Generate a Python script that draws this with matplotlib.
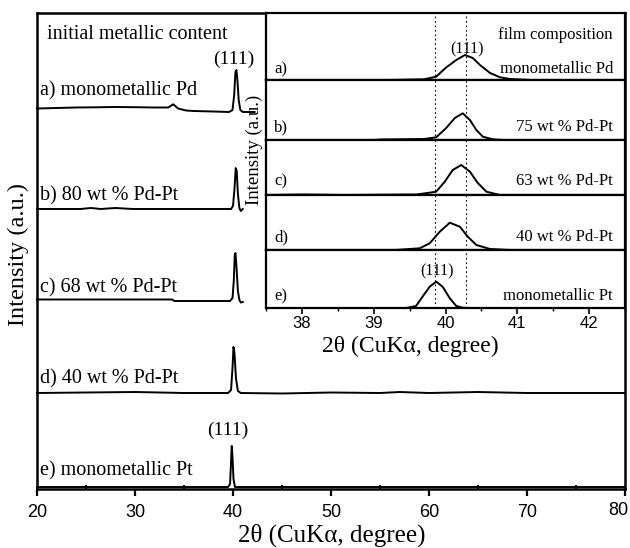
import matplotlib
matplotlib.use("Agg")
import matplotlib.pyplot as plt
import numpy as np
from matplotlib.ticker import MultipleLocator

plt.rcParams['font.family'] = ['Liberation Serif', 'DejaVu Serif']

# ---------------- data: main panel (2theta, intensity above baseline, a.u.) ----
main_ticks = [20, 30, 40, 50, 60, 70, 80]
main_tick_labels = ["20", "30", "40", "50", "60", "70", "80"]
main_labels = ["a) monometallic Pd", "b) 80 wt % Pd-Pt", "c) 68 wt % Pd-Pt",
               "d) 40 wt % Pd-Pt", "e) monometallic Pt"]
main_offsets = [377, 280, 188, 96, 2]

main_a_x = [20.0, 22.0, 24.0, 26.0, 28.0, 30.0, 32.0, 33.4, 33.9, 34.4, 35.2, 36.0,
            38.0, 39.6, 39.95, 40.12, 40.25, 40.35, 40.45, 40.58, 40.75, 41.0, 42.2]
main_a_y = [3.5, 4.0, 4.5, 4.7, 5.0, 4.8, 4.5, 4.5, 7.7, 3.5, 1.5, 1.0,
            0.5, 0.0, 2.0, 17.0, 40.0, 42.0, 32.0, 12.0, 2.0, 0.0, 0.0]

main_b_x = [20.0, 24.4, 25.5, 26.5, 28.0, 29.8, 33.0, 37.0, 39.8, 40.0, 40.15, 40.28,
            40.38, 40.5, 40.65, 40.8, 41.0]
main_b_y = [0.0, 0.0, 1.0, 0.0, 1.0, 0.0, 0.0, 0.0, 0.0, 3.0, 20.0, 41.0,
            38.0, 15.0, 1.0, -2.0, 0.0]

main_c_x = [20.0, 33.8, 34.0, 39.7, 39.95, 40.08, 40.18, 40.25, 40.35, 40.5, 40.65,
            40.8, 41.0]
main_c_y = [1.5, 1.5, 0.0, 0.0, 3.0, 20.0, 46.0, 48.0, 35.0, 10.0, 1.0, -1.5, -1.0]

main_d_x = [20.0, 25.0, 30.0, 35.0, 39.5, 39.8, 39.95, 40.05, 40.15, 40.3, 40.5, 40.8,
            45.0, 50.0, 55.0, 57.0, 60.0, 65.0, 70.0, 75.0, 80.0]
main_d_y = [0.0, 0.5, 1.0, 0.0, 0.0, 3.0, 25.0, 46.0, 40.0, 15.0, 2.0, 0.0,
            -0.5, 0.5, 0.0, 1.0, 0.0, 1.0, 0.0, 0.0, 0.0]

main_e_x = [20.0, 39.5, 39.7, 39.8, 39.87, 39.95, 40.05, 40.2, 80.0]
main_e_y = [0.0, 0.0, 3.0, 25.0, 41.0, 30.0, 8.0, 0.0, 0.0]

main_x = [main_a_x, main_b_x, main_c_x, main_d_x, main_e_x]
main_y = [main_a_y, main_b_y, main_c_y, main_d_y, main_e_y]

# ---------------- data: inset (film composition) ----------------
inset_left_labels = ["a)", "b)", "c)", "d)", "e)"]
inset_right_labels = ["monometallic Pd", "75 wt % Pd-Pt", "63 wt % Pd-Pt",
                      "40 wt % Pd-Pt", "monometallic Pt"]
inset_a_x = [37.5, 38.5, 39.1, 39.2, 39.7, 39.87, 40.0, 40.15, 40.27, 40.38, 40.48,
             40.62, 40.76, 40.9, 41.2, 42.5]
inset_a_y = [0, 0, -0.8, 0, 0.7, 3.3, 12, 20, 25, 22, 15, 7, 2.7, 1, 0, 0]
inset_b_x = [37.5, 39.0, 39.1, 39.7, 39.87, 40.01, 40.13, 40.24, 40.34, 40.43, 40.52,
             40.66, 40.8, 42.5]
inset_b_y = [0, 0, 0.5, 1, 2.7, 12, 22, 26.7, 20, 10, 3.3, 0.7, 0, 0]
inset_c_x = [37.5, 38.0, 38.6, 39.6, 39.87, 39.99, 40.1, 40.22, 40.34, 40.45, 40.57,
             40.76, 42.5]
inset_c_y = [0, 0.5, 0, 0.5, 3.3, 13.3, 25, 30, 23.3, 12, 3.3, 0, 0]
inset_d_x = [37.5, 38.5, 39.3, 39.64, 39.78, 39.92, 40.06, 40.2, 40.31, 40.43, 40.62,
             40.9, 42.5]
inset_d_y = [0, -0.5, 0, 1.7, 6.7, 18.3, 27.3, 23.3, 13.3, 5, 1, 0, 0]
inset_e_x = [39.45, 39.59, 39.68, 39.78, 39.87, 39.96, 40.06, 40.15, 40.24, 40.35]
inset_e_y = [0, 2, 11.3, 21.3, 26.3, 21.3, 9.7, 2, 0.3, 0]
inset_x = [inset_a_x, inset_b_x, inset_c_x, inset_d_x, inset_e_x]
inset_y = [inset_a_y, inset_b_y, inset_c_y, inset_d_y, inset_e_y]
inset_ref_lines = [39.86, 40.28]

# ---------------- figure ----------------
W, H = 630, 548
fig = plt.figure(figsize=(W / 100, H / 100), dpi=100)


def px_ax(l, t, r, b):
    return [l / W, 1 - b / H, (r - l) / W, (b - t) / H]


def ftext(x, y, s, **kw):
    kw.setdefault('va', 'baseline')
    fig.text(x / W, 1 - y / H, s, **kw)


ax = fig.add_axes(px_ax(37, 13, 625, 489))
ax.set_xlim(20, 80)
ax.set_ylim(0, 476)
for xs, ys, off in zip(main_x, main_y, main_offsets):
    ax.plot(xs, np.array(ys) + off, color='k', lw=1.4, clip_on=False)
ax.set_yticks([])
# last label drawn separately so it stays inside the picture edge
ax.set_xticks(main_ticks, labels=main_tick_labels[:-1] + [""])
ax.xaxis.set_minor_locator(MultipleLocator(5))
ax.tick_params(axis='x', which='major', direction='out', length=5, width=1.6,
               pad=6, labelsize=13)
ax.tick_params(axis='x', which='minor', direction='in', length=3, width=1.4)
for lab in ax.get_xticklabels():
    lab.set_fontfamily('Liberation Sans')
ax.annotate(main_tick_labels[-1], xy=(main_ticks[-1], 0),
            xycoords=('data', 'axes fraction'), xytext=(-5, -9.6),
            textcoords='offset points', ha='center', va='top', fontsize=13,
            fontfamily='Liberation Sans', annotation_clip=False)
for sp in ax.spines.values():
    sp.set_linewidth(1.8)

# main texts
ftext(47, 39, "initial metallic content", fontsize=14.5)
ftext(234, 64, "(111)", fontsize=14, ha='center')
label_baselines = [95, 200, 292, 383, 475]
for lab, yb in zip(main_labels, label_baselines):
    ftext(40, yb, lab, fontsize=14.5)
ftext(228, 435, "(111)", fontsize=14, ha='center')
ftext(18, 255, "Intensity (a.u.)", fontsize=17.5, rotation=90, ha='center', va='center')
ftext(238, 542, "2θ (CuKα, degree)", fontsize=18)

# inset panels
bounds = [13, 80, 140, 195, 250, 308]
for i in range(5):
    axi = fig.add_axes(px_ax(266, bounds[i], 625, bounds[i + 1]))
    axi.set_facecolor('white')
    axi.set_xlim(37.5, 42.5)
    axi.set_ylim(0, bounds[i + 1] - bounds[i])
    axi.plot(inset_x[i], inset_y[i], color='k', lw=1.4)
    for xv in inset_ref_lines:
        axi.axvline(xv, color='k', lw=0.8, ls=(0, (1.5, 2.5)))
    axi.set_yticks([])
    axi.xaxis.set_major_locator(MultipleLocator(1))
    axi.xaxis.set_minor_locator(MultipleLocator(0.5))
    for sp in axi.spines.values():
        sp.set_linewidth(1.6)
    if i < 4:
        axi.tick_params(axis='x', which='both', bottom=False, labelbottom=False)
    else:
        axi.tick_params(axis='x', which='major', direction='out', length=4,
                        width=1.2, pad=2, labelsize=12)
        axi.tick_params(axis='x', which='minor', direction='out', length=2.5,
                        width=1.0)
        for lab in axi.get_xticklabels():
            lab.set_fontfamily('Liberation Sans')

# inset texts
ftext(613, 39, "film composition", fontsize=12, ha='right')
ftext(467, 53, "(111)", fontsize=11.5, ha='center')
ftext(437, 275, "(111)", fontsize=11.5, ha='center')
inset_baselines = [73, 131, 185, 241, 300]
for l, r, yb in zip(inset_left_labels, inset_right_labels, inset_baselines):
    ftext(274, yb, l, fontsize=12)
    ftext(613, yb, r, fontsize=12, ha='right')
ftext(254, 150, "Intensity (a.u.)", fontsize=13.5, rotation=90, ha='center', va='center')
ftext(322, 352, "2θ (CuKα, degree)", fontsize=17)

fig.savefig("out.png", dpi=100)
